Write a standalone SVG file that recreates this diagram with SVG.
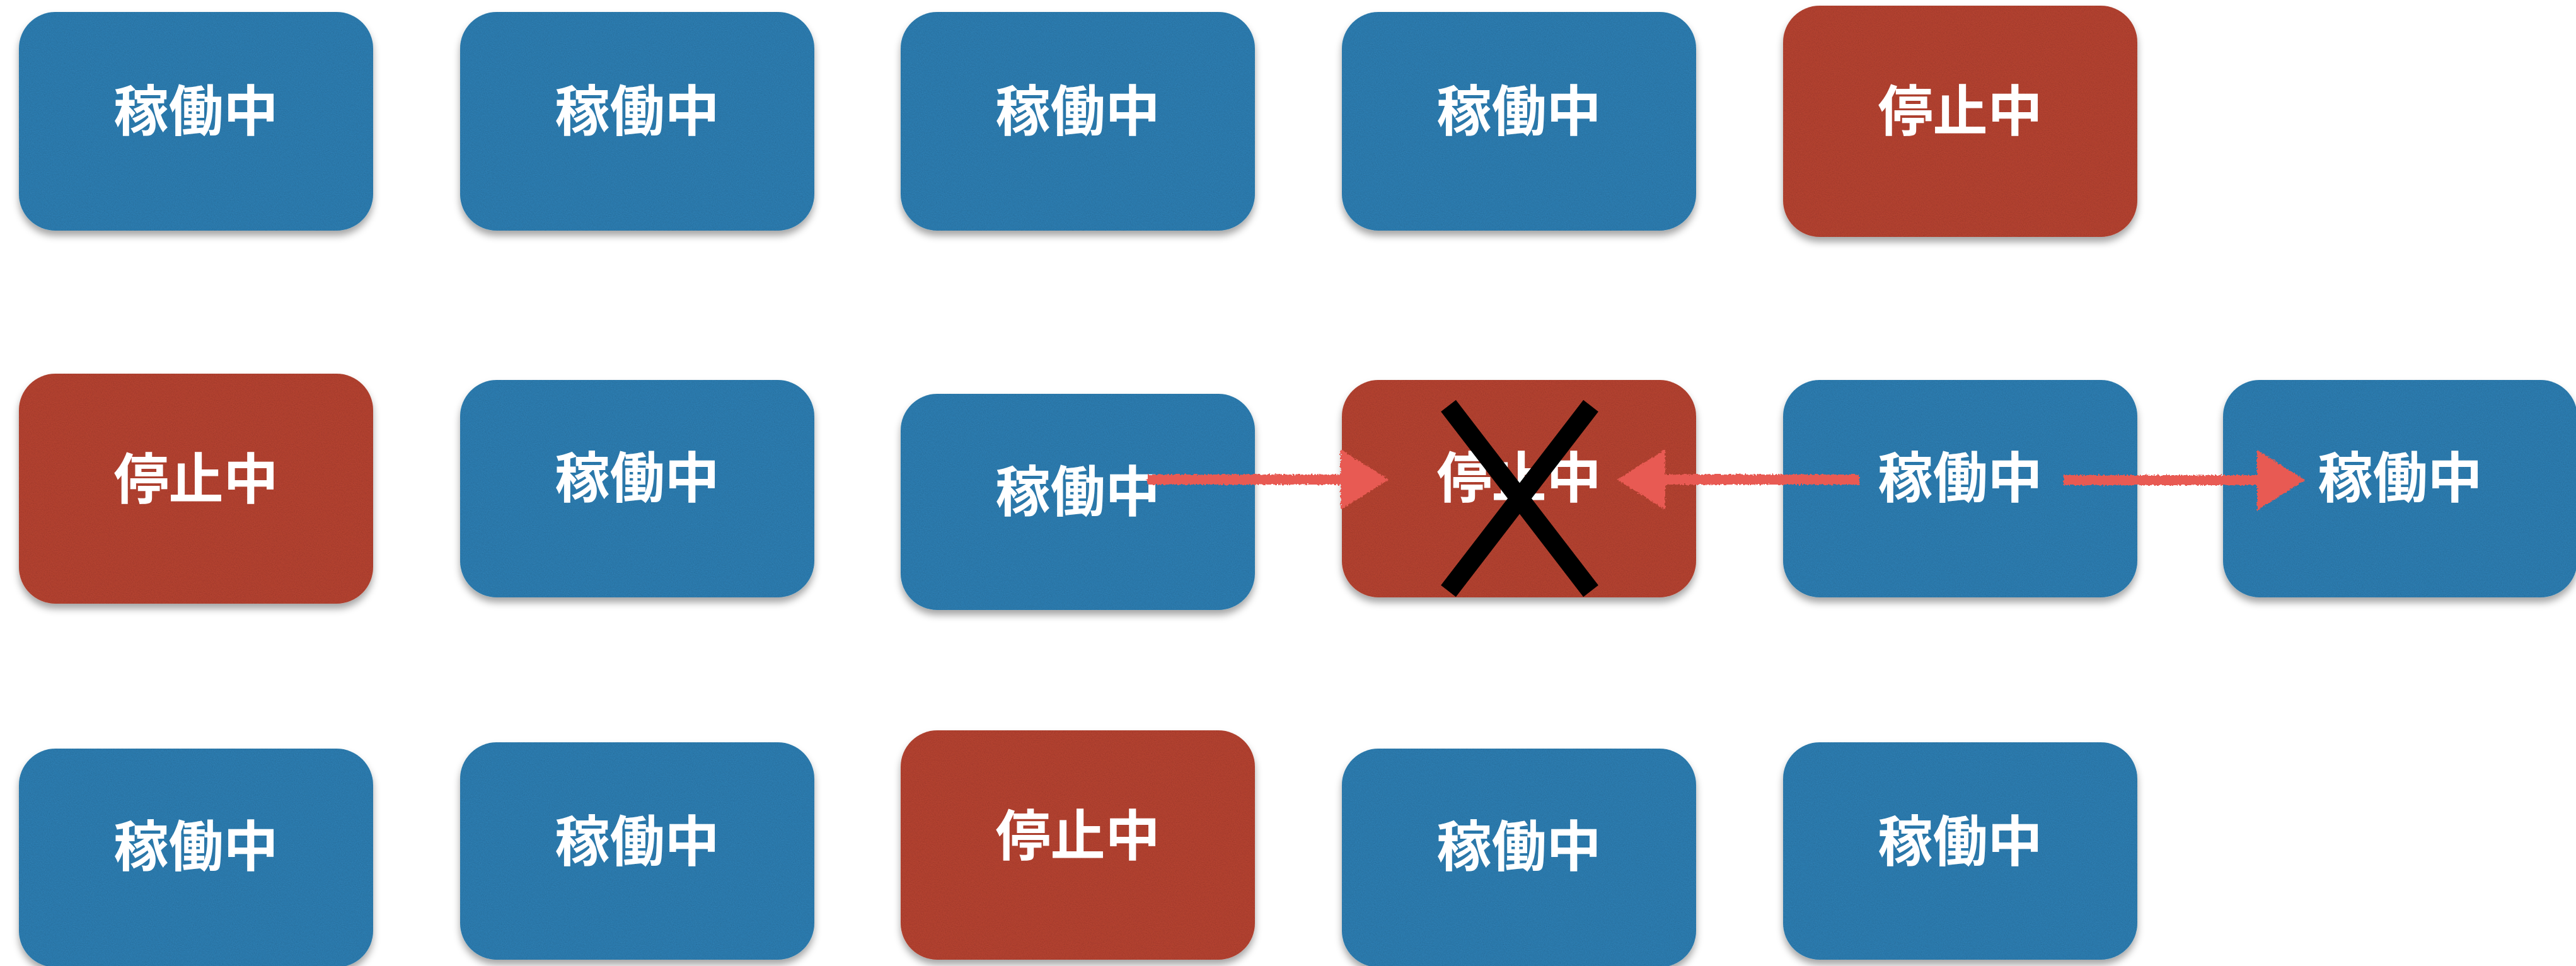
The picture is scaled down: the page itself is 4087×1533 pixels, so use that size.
<svg xmlns="http://www.w3.org/2000/svg" width="4087" height="1533" viewBox="0 0 4087 1533">
<style>
.blue{fill:#2e7caf}
.red{fill:#b24331}
.card{filter:url(#card)}
.lbl{font-family:"Noto Sans CJK JP","Noto Sans CJK SC",sans-serif;font-weight:700;font-size:87px;fill:#ffffff;text-anchor:middle;dominant-baseline:central}
.conn{fill:none;stroke:#e85a52;stroke-width:16;filter:url(#chalk)}
</style>
<defs>
<filter id="card" x="-10%" y="-10%" width="120%" height="130%">
<feGaussianBlur in="SourceAlpha" stdDeviation="6"/>
<feOffset dy="8" result="blur"/>
<feFlood flood-color="#000" flood-opacity="0.35"/>
<feComposite in2="blur" operator="in" result="shadow"/>
<feTurbulence type="fractalNoise" baseFrequency="0.6" numOctaves="3" seed="7" result="noise"/>
<feColorMatrix in="noise" type="matrix" values="0 0 0 0 0 0 0 0 0 0 0 0 0 0 0 0.35 0 0 0 -0.12" result="speck"/>
<feComposite in="speck" in2="SourceAlpha" operator="in" result="tex"/>
<feMerge><feMergeNode in="shadow"/><feMergeNode in="SourceGraphic"/><feMergeNode in="tex"/></feMerge>
</filter>
<filter id="chalk" filterUnits="userSpaceOnUse" x="0" y="0" width="4087" height="1533">
<feTurbulence type="fractalNoise" baseFrequency="0.35" numOctaves="2" seed="4" result="n"/>
<feDisplacementMap in="SourceGraphic" in2="n" scale="6" xChannelSelector="R" yChannelSelector="G"/>
</filter>
<marker id="head" markerUnits="userSpaceOnUse" markerWidth="80" markerHeight="100" refX="1" refY="48" orient="auto" overflow="visible">
<path d="M0,0 L76,48 L0,96 Z" fill="#e85a52"/>
</marker>
</defs>

<g id="r1c1"><rect class="card blue" x="30" y="19" width="562" height="347" rx="58"/><text class="lbl" x="311" y="170">稼働中</text></g>
<g id="r1c2"><rect class="card blue" x="730" y="19" width="562" height="347" rx="58"/><text class="lbl" x="1011" y="170">稼働中</text></g>
<g id="r1c3"><rect class="card blue" x="1429" y="19" width="562" height="347" rx="58"/><text class="lbl" x="1710" y="170">稼働中</text></g>
<g id="r1c4"><rect class="card blue" x="2129" y="19" width="562" height="347" rx="58"/><text class="lbl" x="2410" y="170">稼働中</text></g>
<g id="r1c5"><rect class="card red" x="2829" y="9" width="562" height="367" rx="58"/><text class="lbl" x="3110" y="170">停止中</text></g>

<g id="r2c1"><rect class="card red" x="30" y="593" width="562" height="365" rx="58"/><text class="lbl" x="311" y="754">停止中</text></g>
<g id="r2c2"><rect class="card blue" x="730" y="603" width="562" height="345" rx="58"/><text class="lbl" x="1011" y="752">稼働中</text></g>
<g id="r2c3"><rect class="card blue" x="1429" y="625" width="562" height="343" rx="58"/><text class="lbl" x="1710" y="774">稼働中</text></g>
<g id="r2c4"><rect class="card red" x="2129" y="603" width="562" height="345" rx="58"/><text class="lbl" x="2410" y="752">停止中</text>
<path d="M2298,644 L2524,938 M2524,644 L2298,938" stroke="#000" stroke-width="30" fill="none"/></g>
<g id="r2c5"><rect class="card blue" x="2829" y="603" width="562" height="345" rx="58"/><text class="lbl" x="3110" y="752">稼働中</text></g>
<g id="r2c6"><rect class="card blue" x="3527" y="603" width="562" height="345" rx="58"/><text class="lbl" x="3808" y="752">稼働中</text></g>

<g id="r3c1"><rect class="card blue" x="30" y="1188" width="562" height="347" rx="58"/><text class="lbl" x="311" y="1337">稼働中</text></g>
<g id="r3c2"><rect class="card blue" x="730" y="1178" width="562" height="345" rx="58"/><text class="lbl" x="1011" y="1329">稼働中</text></g>
<g id="r3c3"><rect class="card red" x="1429" y="1159" width="562" height="364" rx="58"/><text class="lbl" x="1710" y="1320">停止中</text></g>
<g id="r3c4"><rect class="card blue" x="2129" y="1188" width="562" height="347" rx="58"/><text class="lbl" x="2410" y="1337">稼働中</text></g>
<g id="r3c5"><rect class="card blue" x="2829" y="1178" width="562" height="345" rx="58"/><text class="lbl" x="3110" y="1329">稼働中</text></g>

<g id="connectors">
<path class="conn" d="M1820,761 L2128,761" marker-end="url(#head)"/>
<path class="conn" d="M2950,761 L2641,761" marker-end="url(#head)"/>
<path class="conn" d="M3274,762 L3582,762" marker-end="url(#head)"/>
</g>
</svg>
